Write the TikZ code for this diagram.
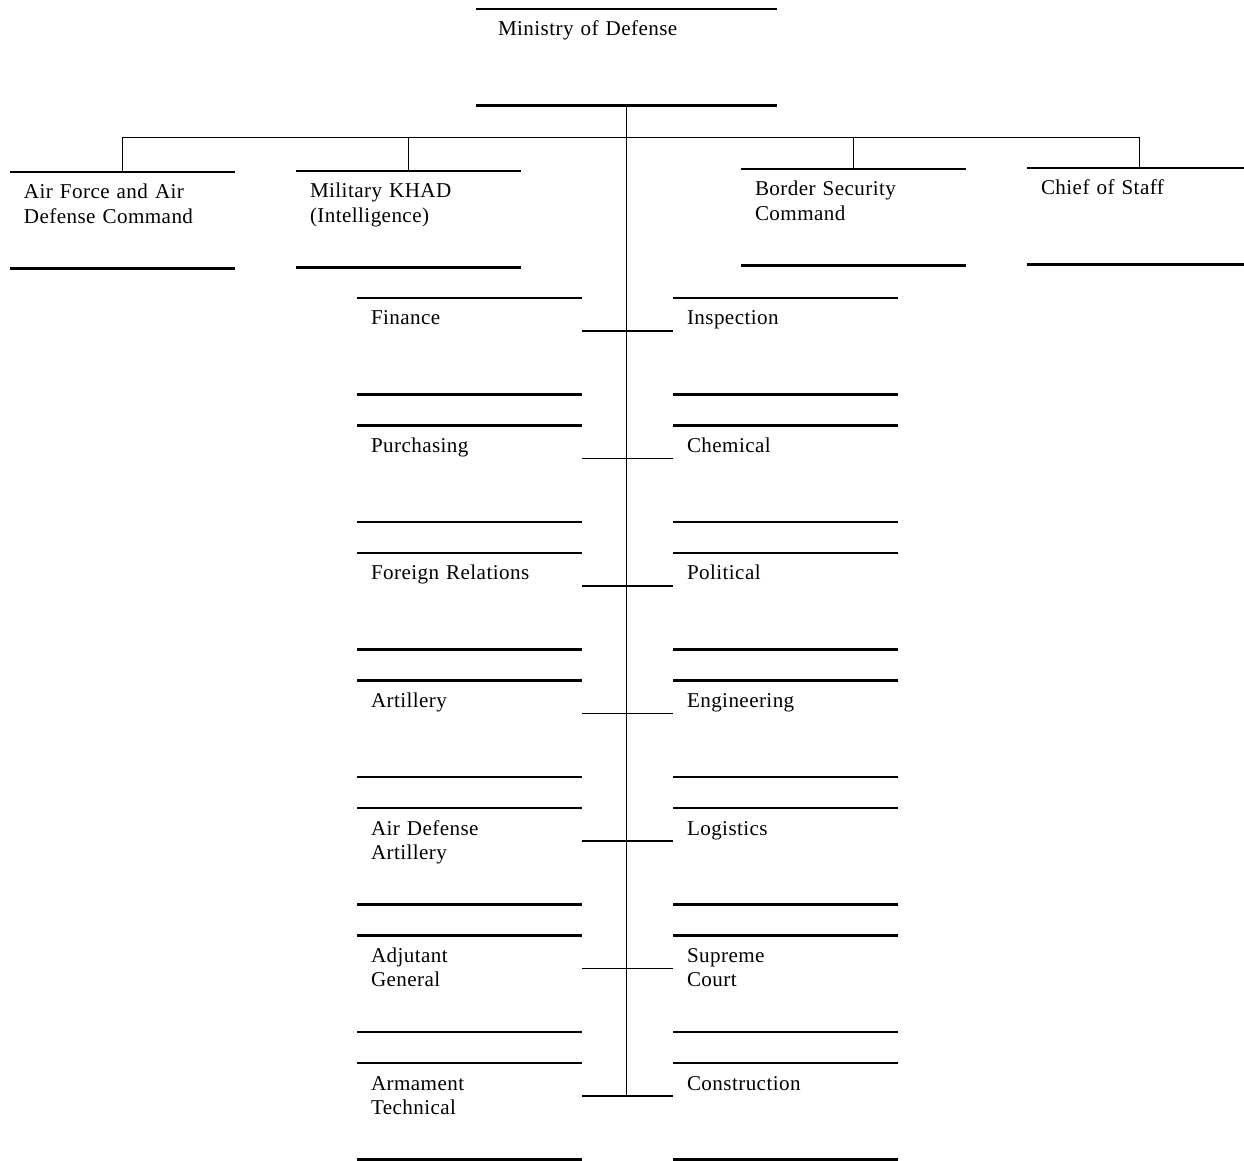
\documentclass[tikz,border=0pt]{standalone}
\usepackage{fontspec}
\setmainfont[LetterSpace=2]{Liberation Serif}
\usetikzlibrary{positioning}

\begin{document}
\begin{tikzpicture}[
    unit/.style={text width=3.94cm, align=left, inner xsep=0.28cm, inner ysep=0pt, outer sep=0pt,
      text height=0.54cm, text depth=1.39cm, font=\fontsize{12}{13.8}\selectfont},
    rule/.style={line width=1.6pt},
    link/.style={line width=0.6pt}
  ]
  \useasboundingbox (0,0) rectangle (24.88,-23.22);

  % top of the chart
  \node[unit, text width=5.14cm, anchor=north west, inner xsep=0.44cm] (mod) at (9.52,-0.18) {Ministry of Defense};

  \node[unit, anchor=north west] (af) at (0.20,-3.44) {Air Force and Air\\Defense Command};
  \node[unit, anchor=north west] (khad) at (5.92,-3.42) {Military KHAD\\(Intelligence)};
  \node[unit, anchor=north west] (bsc) at (14.82,-3.38) {Border Security\\Command};
  \node[unit, anchor=north west] (cos) at (20.54,-3.36) {Chief of Staff};

  % left column
  \node[unit, anchor=north west] (fin) at (7.14,-5.96) {Finance};
  \node[unit, below=0.62cm of fin] (pur) {Purchasing};
  \node[unit, below=0.62cm of pur] (for) {Foreign Relations};
  \node[unit, below=0.62cm of for] (art) {Artillery};
  \node[unit, below=0.62cm of art] (ada) {Air Defense\\Artillery};
  \node[unit, below=0.62cm of ada] (adj) {Adjutant\\General};
  \node[unit, below=0.62cm of adj] (arm) {Armament\\Technical};

  % right column
  \node[unit, anchor=north west] (ins) at (13.46,-5.96) {Inspection};
  \node[unit, below=0.62cm of ins] (che) {Chemical};
  \node[unit, below=0.62cm of che] (pol) {Political};
  \node[unit, below=0.62cm of pol] (eng) {Engineering};
  \node[unit, below=0.62cm of eng] (log) {Logistics};
  \node[unit, below=0.62cm of log] (sup) {Supreme\\Court};
  \node[unit, below=0.62cm of sup] (con) {Construction};

  % rules above and below every unit
  \foreach \n in {mod,af,khad,bsc,cos,fin,pur,for,art,ada,adj,arm,ins,che,pol,eng,log,sup,con}
    \draw[rule] (\n.north west) -- (\n.north east) (\n.south west) -- (\n.south east);

  % connectors
  \coordinate (bar) at ([yshift=-0.64cm]mod.south);
  \coordinate (trunkend) at ([yshift=-0.66cm]arm.north east);
  \draw[link] (mod.south) -- (mod.south |- trunkend);
  \draw[link] (af.north) |- (bar) -| (cos.north);
  \draw[link] (khad.north) -- (khad.north |- bar);
  \draw[link] (bsc.north) -- (bsc.north |- bar);
  \foreach \l/\r in {fin/ins,pur/che,for/pol,art/eng,ada/log,adj/sup,arm/con}
    \draw[link] ([yshift=-0.66cm]\l.north east) -- ([yshift=-0.66cm]\r.north west);
\end{tikzpicture}
\end{document}
